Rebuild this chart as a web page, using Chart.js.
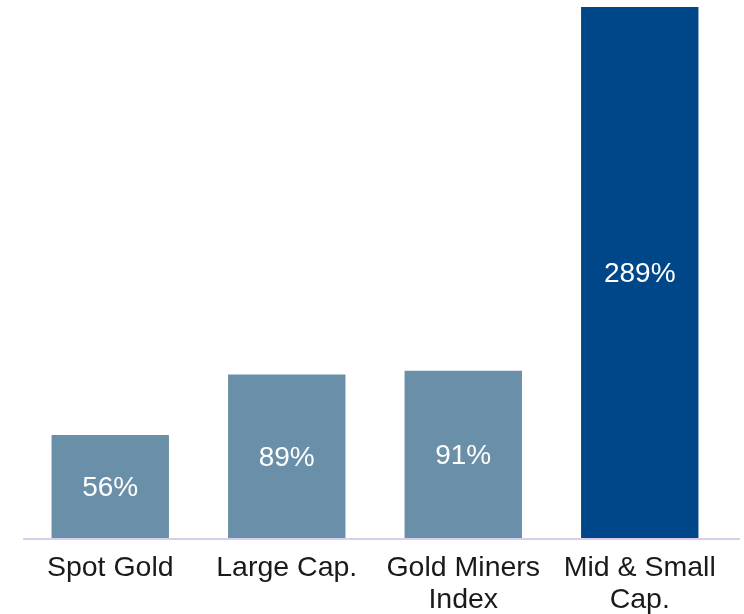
<!DOCTYPE html>
<html>
<head>
<meta charset="utf-8">
<script src="https://cdn.jsdelivr.net/npm/chart.js@4"></script>
<style>
  html, body { margin: 0; padding: 0; background: #ffffff; }
  #wrap { width: 744px; height: 614px; }
</style>
</head>
<body>
<div id="wrap"><canvas id="myChart" width="744" height="614"></canvas></div>
<script>
// categories and returns
const categories = [["Spot Gold"], ["Large Cap."], ["Gold Miners", "Index"], ["Mid & Small", "Cap."]];
const returns = [56, 89, 91, 289];
const barColors = ["#6a8fa8", "#6a8fa8", "#6a8fa8", "#00478a"];

// white value label in the middle of each bar
const valueLabels = {
  id: 'valueLabels',
  afterDatasetsDraw(chart) {
    const ctx = chart.ctx;
    const meta = chart.getDatasetMeta(0);
    ctx.save();
    ctx.fillStyle = '#ffffff';
    ctx.font = '28px "Liberation Sans", Arial, sans-serif';
    ctx.textAlign = 'center';
    ctx.textBaseline = 'middle';
    meta.data.forEach((bar, i) => {
      const mid = (bar.y + bar.base) / 2;
      ctx.fillText(returns[i] + '%', bar.x, mid + 2);
    });
    ctx.restore();
  }
};

// baseline runs a bit past the last bar
const baseLine = {
  id: 'baseLine',
  afterDatasetsDraw(chart) {
    const ctx = chart.ctx;
    const y = chart.scales.y.getPixelForValue(0);
    ctx.save();
    ctx.strokeStyle = '#d8cdea';
    ctx.lineWidth = 2;
    ctx.beginPath();
    ctx.moveTo(23, y + 1);
    ctx.lineTo(740, y + 1);
    ctx.stroke();
    ctx.restore();
  }
};

const ctx = document.getElementById('myChart');
new Chart(ctx, {
  type: 'bar',
  data: {
    labels: categories,
    datasets: [{
      data: returns,
      backgroundColor: barColors,
      borderWidth: 0,
      categoryPercentage: 1,
      barPercentage: 0.665
    }]
  },
  options: {
    responsive: false,
    animation: false,
    layout: { padding: { top: 7, left: 22, right: 16, bottom: 0 } },
    plugins: {
      legend: { display: false },
      tooltip: { enabled: false }
    },
    scales: {
      x: {
        grid: { display: false, drawTicks: false },
        border: { display: false },
        afterFit(scale) { scale.height = 76; },
        ticks: {
          color: '#1a1a1a',
          padding: 14,
          maxRotation: 0,
          autoSkip: false,
          font: { family: '"Liberation Sans", Arial, sans-serif', size: 28.5, lineHeight: 1.13 }
        }
      },
      y: {
        display: false,
        min: 0,
        max: 289
      }
    }
  },
  plugins: [valueLabels, baseLine]
});
</script>
</body>
</html>
